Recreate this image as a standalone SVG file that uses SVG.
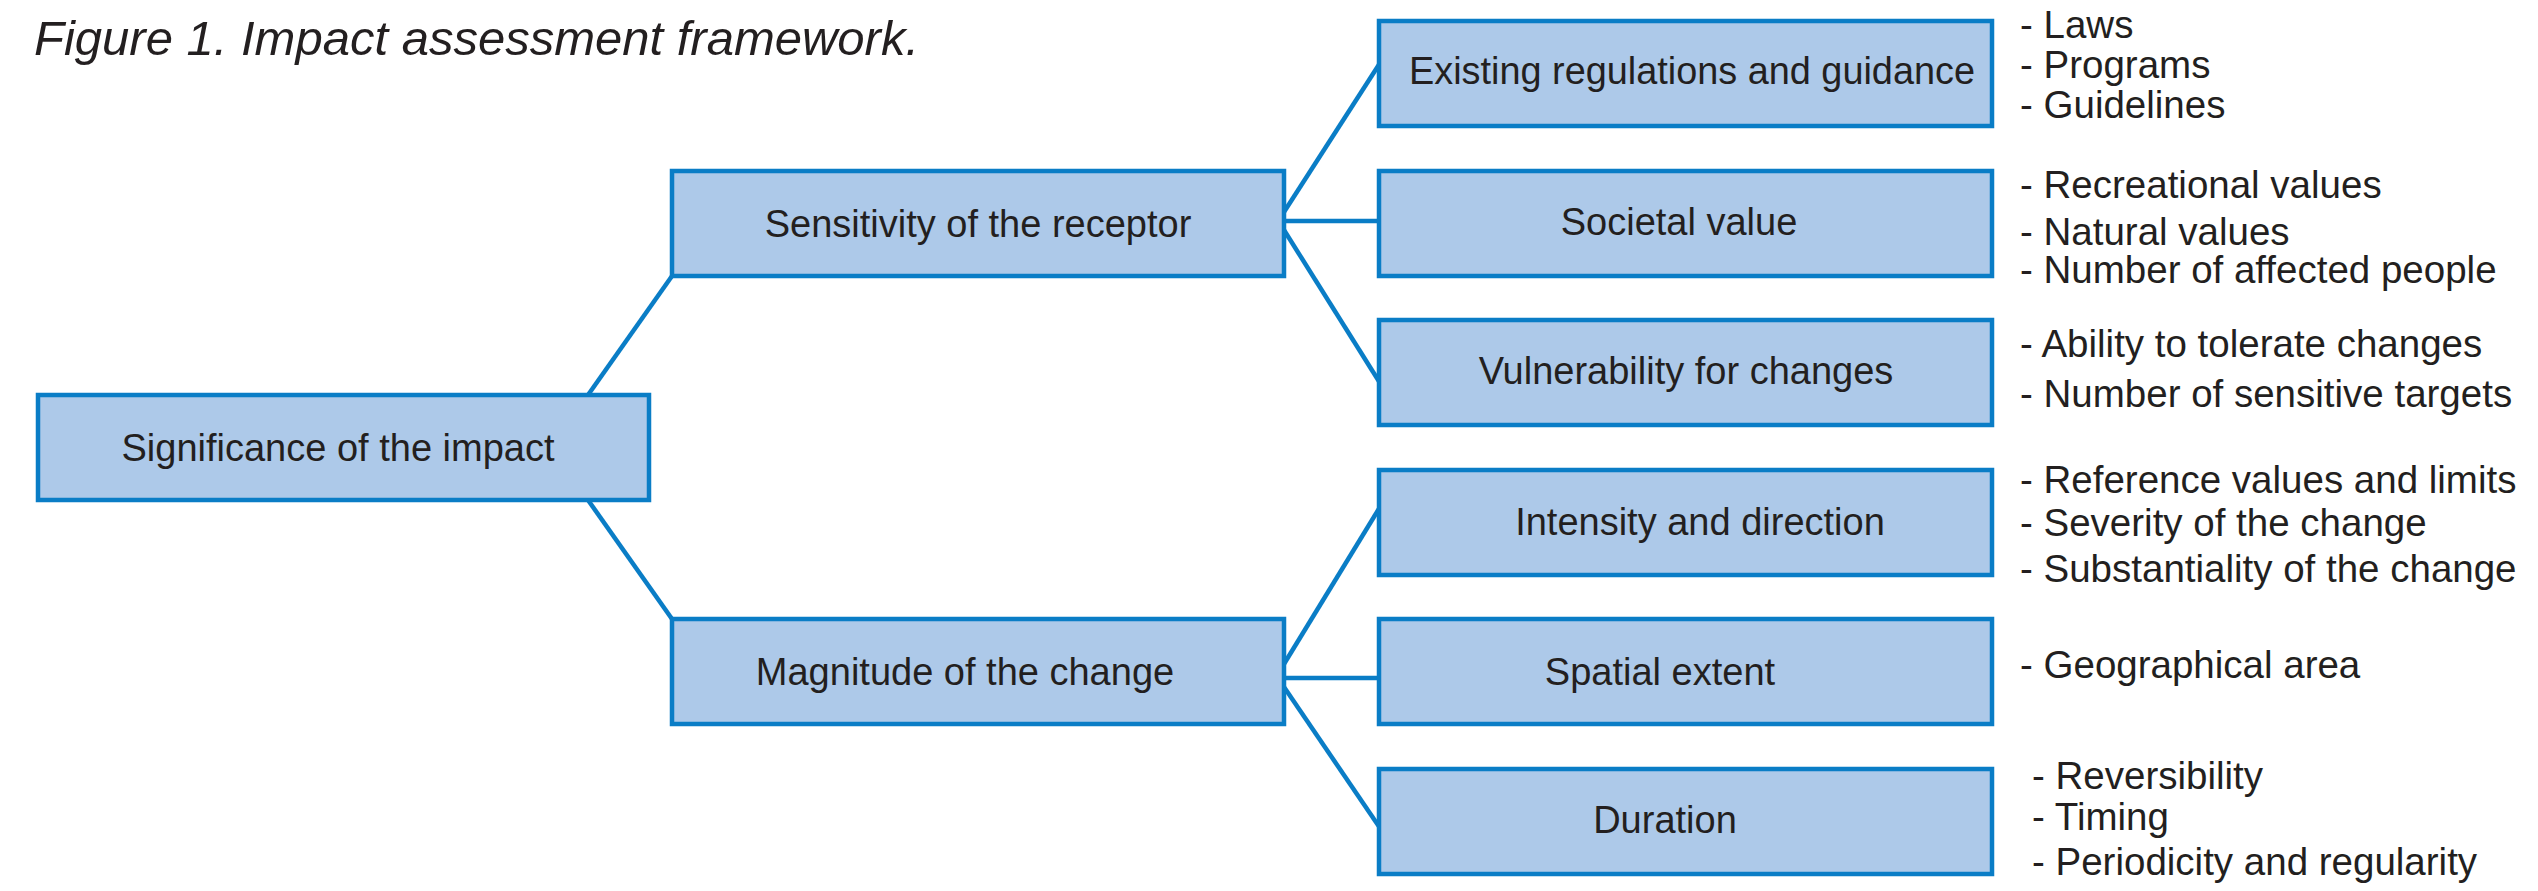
<svg xmlns="http://www.w3.org/2000/svg" width="2538" height="891" viewBox="0 0 2538 891">
<style>
.box{fill:#adc9e9;stroke:#0a7dc6;stroke-width:4.5}
.lbl{font-family:"Liberation Sans",Arial,sans-serif;font-size:38px;fill:#231f20;text-anchor:middle}
.item{font-family:"Liberation Sans",Arial,sans-serif;font-size:38.5px;fill:#231f20}
.title{font-family:"Liberation Sans",Arial,sans-serif;font-size:49px;font-style:italic;fill:#231f20}
.conn line{stroke:#0a7dc6;stroke-width:4.5;fill:none}
</style>
<rect width="2538" height="891" fill="#ffffff"/>
<text class="title" x="34" y="55">Figure 1. Impact assessment framework.</text>
<g class="conn" id="connectors">
<line x1="588" y1="395" x2="672" y2="276"/>
<line x1="588" y1="500" x2="672" y2="619"/>
<line x1="1284" y1="212" x2="1380" y2="63"/>
<line x1="1284" y1="221" x2="1380" y2="221"/>
<line x1="1284" y1="230" x2="1380" y2="383"/>
<line x1="1284" y1="664" x2="1380" y2="507"/>
<line x1="1284" y1="678" x2="1380" y2="678"/>
<line x1="1284" y1="687" x2="1380" y2="828"/>
</g>
<g id="significance"><rect class="box" x="38" y="395" width="611" height="105"/><text class="lbl" x="338" y="461">Significance of the impact</text></g>
<g id="sensitivity"><rect class="box" x="672" y="171" width="612" height="105"/><text class="lbl" x="978" y="237">Sensitivity of the receptor</text></g>
<g id="magnitude"><rect class="box" x="672" y="619" width="612" height="105"/><text class="lbl" x="965" y="685">Magnitude of the change</text></g>
<g id="existing"><rect class="box" x="1379" y="21" width="613" height="105"/><text class="lbl" x="1692" y="84" textLength="566" lengthAdjust="spacingAndGlyphs">Existing regulations and guidance</text>
<text class="item" x="2020" y="38">- Laws</text><text class="item" x="2020" y="78">- Programs</text><text class="item" x="2020" y="118">- Guidelines</text></g>
<g id="societal"><rect class="box" x="1379" y="171" width="613" height="105"/><text class="lbl" x="1679" y="235">Societal value</text>
<text class="item" x="2020" y="198">- Recreational values</text><text class="item" x="2020" y="245">- Natural values</text><text class="item" x="2020" y="283">- Number of affected people</text></g>
<g id="vulnerability"><rect class="box" x="1379" y="320" width="613" height="105"/><text class="lbl" x="1686" y="384">Vulnerability for changes</text>
<text class="item" x="2020" y="357">- Ability to tolerate changes</text><text class="item" x="2020" y="407">- Number of sensitive targets</text></g>
<g id="intensity"><rect class="box" x="1379" y="470" width="613" height="105"/><text class="lbl" x="1700" y="535">Intensity and direction</text>
<text class="item" x="2020" y="493">- Reference values and limits</text><text class="item" x="2020" y="536">- Severity of the change</text><text class="item" x="2020" y="582">- Substantiality of the change</text></g>
<g id="spatial"><rect class="box" x="1379" y="619" width="613" height="105"/><text class="lbl" x="1660" y="685">Spatial extent</text>
<text class="item" x="2020" y="678">- Geographical area</text></g>
<g id="duration"><rect class="box" x="1379" y="769" width="613" height="105"/><text class="lbl" x="1665" y="833">Duration</text>
<text class="item" x="2032" y="789">- Reversibility</text><text class="item" x="2032" y="830">- Timing</text><text class="item" x="2032" y="875">- Periodicity and regularity</text></g>
</svg>
